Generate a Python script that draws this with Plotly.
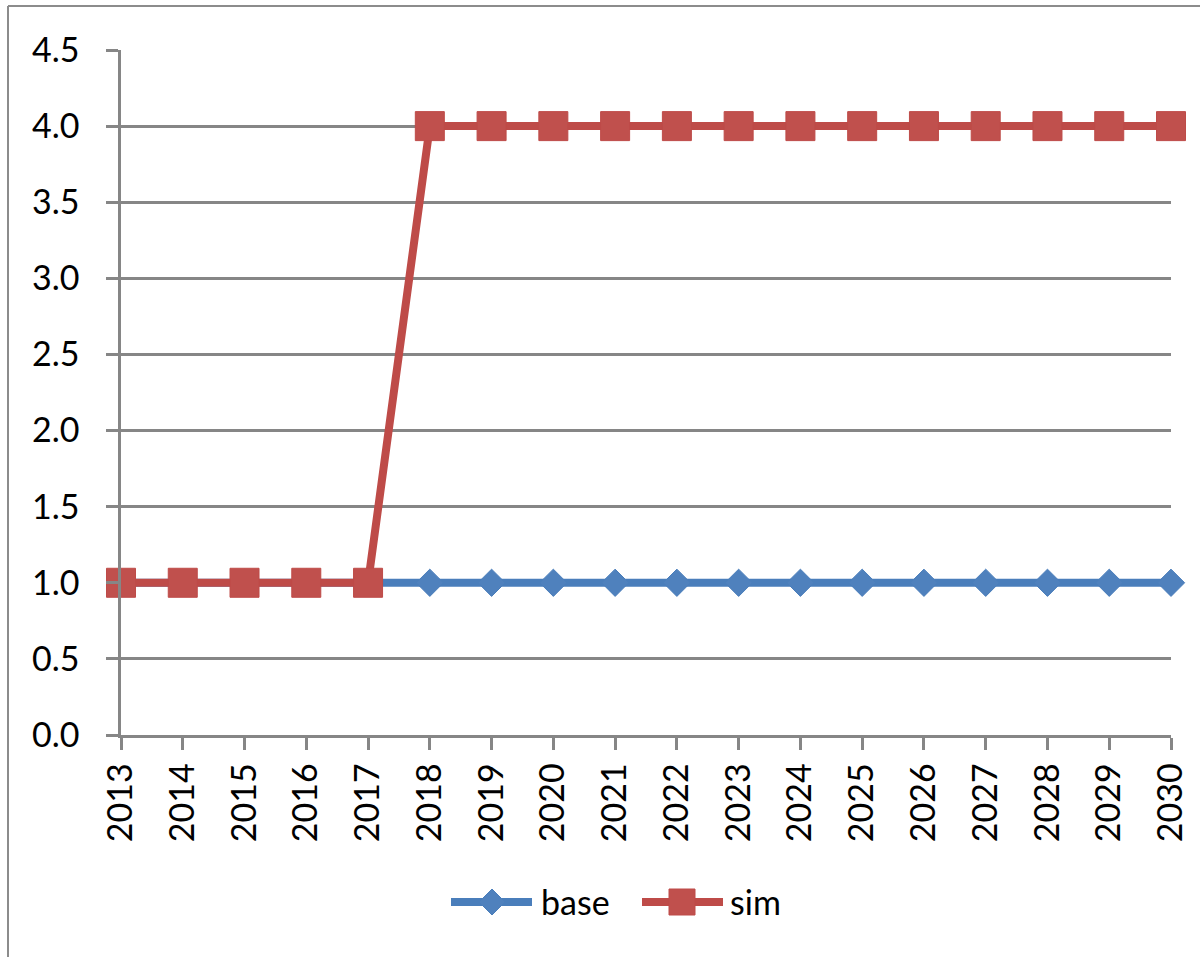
import plotly.graph_objects as go

# Data
years = list(range(2013, 2031))
base = [1.0] * 18
sim = [1.0, 1.0, 1.0, 1.0, 1.0] + [4.0] * 13
y_ticks = [0.0, 0.5, 1.0, 1.5, 2.0, 2.5, 3.0, 3.5, 4.0, 4.5]

BLUE_LINE = "#4A7EBB"
BLUE_MARK = "#4F81BD"
RED_LINE = "#BE4B48"
RED_MARK = "#C0504D"
GRID = "#868686"
FONT = "Lato"

W, H = 1200, 957
L, R, T, B = 121, 29, 50, 222
PW, PH = W - L - R, H - T - B


def px_x(px):
    return (px - L) / PW


def px_y(py):
    return (H - B - py) / PH


fig = go.Figure()
fig.add_trace(go.Scatter(
    x=years, y=base, name="base", mode="lines+markers",
    line=dict(color=BLUE_LINE, width=8),
    marker=dict(symbol="diamond", size=21, color=BLUE_MARK,
                line=dict(color=BLUE_LINE, width=1)),
    cliponaxis=False, showlegend=False,
))
fig.add_trace(go.Scatter(
    x=years, y=sim, name="sim", mode="lines+markers",
    line=dict(color=RED_LINE, width=8),
    marker=dict(symbol="square", size=29, color=RED_MARK,
                line=dict(color=RED_LINE, width=1)),
    cliponaxis=False, showlegend=False,
))

shapes = []
# chart frame (top and left edges)
shapes.append(dict(type="line", xref="paper", yref="paper",
                   x0=px_x(8), x1=px_x(1250), y0=px_y(6), y1=px_y(6),
                   line=dict(color="#8C8C8C", width=2), layer="below"))
shapes.append(dict(type="line", xref="paper", yref="paper",
                   x0=px_x(8), x1=px_x(8), y0=px_y(6), y1=px_y(1000),
                   line=dict(color="#8C8C8C", width=2), layer="below"))

# legend
ly = px_y(902)
legend_items = [
    ("base", BLUE_LINE, BLUE_MARK, "diamond", 451, 532, 492, 539),
    ("sim", RED_LINE, RED_MARK, "square", 642, 723, 682, 728),
]
annotations = []
for name, lc, mc, sym, x0, x1, xm, xt in legend_items:
    shapes.append(dict(type="line", xref="paper", yref="paper",
                       x0=px_x(x0), x1=px_x(x1), y0=ly, y1=ly,
                       line=dict(color=lc, width=8)))
    if sym == "diamond":
        shapes.append(dict(type="path", xref="paper", yref="paper",
                           xsizemode="pixel", ysizemode="pixel",
                           xanchor=px_x(xm), yanchor=ly,
                           path="M -13 0 L 0 13 L 13 0 L 0 -13 Z",
                           fillcolor=mc, line=dict(color=lc, width=1)))
    else:
        shapes.append(dict(type="rect", xref="paper", yref="paper",
                           xsizemode="pixel", ysizemode="pixel",
                           xanchor=px_x(xm), yanchor=ly,
                           x0=-13, x1=13, y0=-13, y1=13,
                           fillcolor=mc, line=dict(color=lc, width=1)))
    annotations.append(dict(xref="paper", yref="paper", x=px_x(xt), y=ly,
                            text=name, showarrow=False, xanchor="left",
                            yanchor="middle",
                            font=dict(family=FONT, size=34, color="black")))

fig.update_layout(
    width=W, height=H,
    margin=dict(l=L, r=R, t=T, b=B),
    paper_bgcolor="white", plot_bgcolor="white",
    font=dict(family=FONT, size=34, color="black"),
    shapes=shapes, annotations=annotations,
    showlegend=False,
)
fig.update_xaxes(
    range=[2013, 2030], tickvals=years, ticktext=[str(y) for y in years],
    tickangle=-90, showgrid=False, zeroline=False,
    showline=True, linecolor=GRID, linewidth=2.5,
    ticks="outside", ticklen=12, tickwidth=2.5, tickcolor=GRID,
    tickfont=dict(family=FONT, size=34, color="black"),
)
fig.update_yaxes(
    range=[0, 4.5], tickvals=y_ticks, tickformat=".1f",
    showgrid=True, gridcolor=GRID, gridwidth=2.5, zeroline=False,
    showline=True, linecolor=GRID, linewidth=2.5,
    ticks="outside", ticklen=12, tickwidth=2.5, tickcolor=GRID,
    tickfont=dict(family=FONT, size=34, color="black"),
    ticklabelstandoff=20,
)

fig.write_html("out.html")
